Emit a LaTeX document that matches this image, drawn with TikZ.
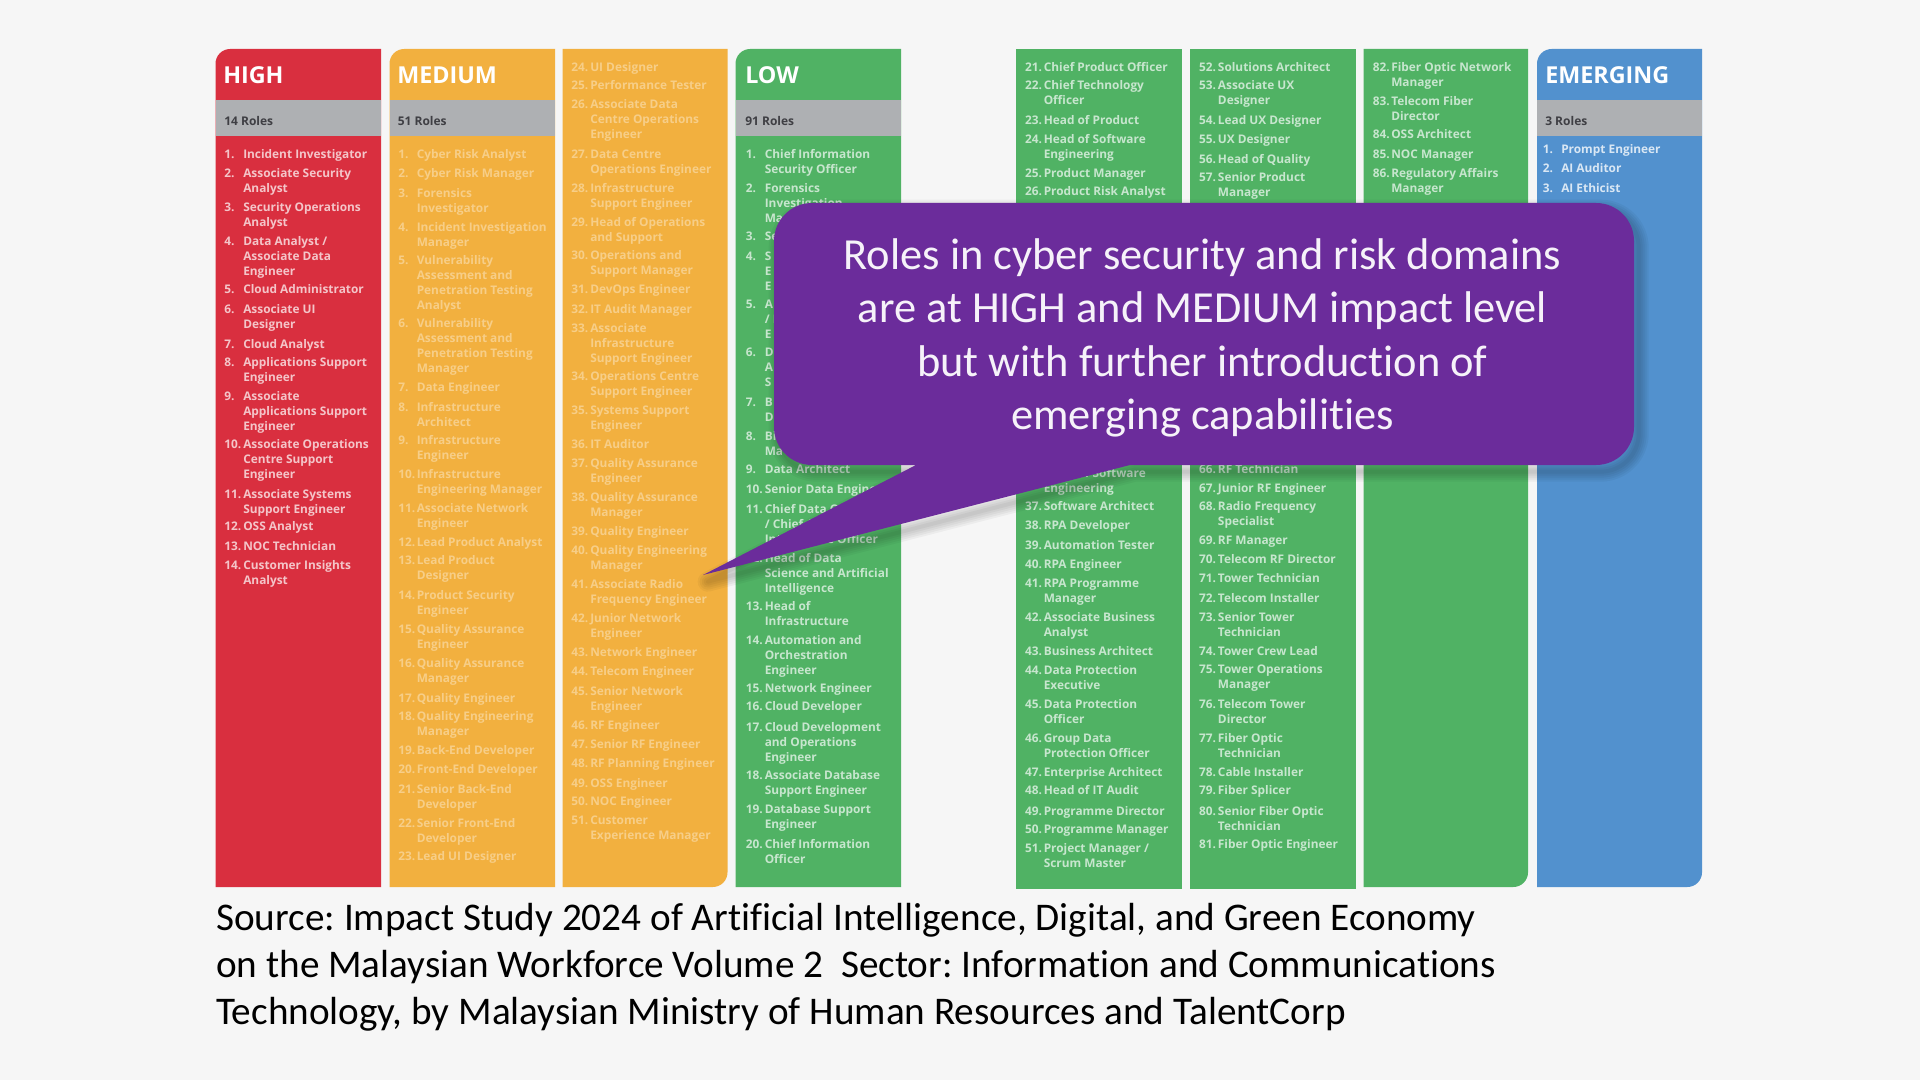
\documentclass[tikz,border=0pt]{standalone}
\usepackage{fontspec}
\setmainfont{Carlito}[Ligatures=CommonOff]
\newfontfamily\headfont{Open Sans}
\frenchspacing
\definecolor{pagebg}{HTML}{F6F6F6}
\definecolor{highcol}{HTML}{D92F3F}
\definecolor{medcol}{HTML}{F2B03F}
\definecolor{lowcol}{HTML}{50B264}
\definecolor{emcol}{HTML}{5291CE}
\definecolor{bandcol}{HTML}{AEB0B3}
\definecolor{bandtext}{HTML}{3F3F44}
\definecolor{purplecol}{HTML}{6B2C9B}
\colorlet{hightext}{white!72!highcol}
\colorlet{medtext}{white!38!medcol}
\colorlet{lowtext}{white!68!lowcol}
\colorlet{emtext}{white!78!emcol}
\tikzset{
  roletext/.style={anchor=north west, inner sep=0pt, align=left,
    font=\headfont\bfseries\fontsize{8.9}{11.25}\selectfont},
  headtext/.style={anchor=west, inner sep=0pt, text=white,
    font=\headfont\bfseries\fontsize{17.5}{20}\selectfont},
  bandlabel/.style={anchor=west, inner sep=0pt, text=bandtext,
    font=\headfont\bfseries\fontsize{9}{11}\selectfont},
}
% col left x, name prefix, text colour, number/text offsets, list of number/y/text
\newcommand{\rolecol}[6]{
  \foreach \n/\yy/\txt in {#6} {
    \node[roletext, text=#3] (#2n\n) at (#1+#4,\yy-6) {\rule{0pt}{8pt}\n.};
    \node[roletext, text=#3] (#2t\n) at (#1+#5,\yy-6) {\rule{0pt}{8pt}\txt};
  }
}
\newcommand{\calloutpath}{(774,300) [rounded corners=28.5pt] -- (774,203) -- (1634,203) -- (1634,465) [sharp corners] -- (1130,465) -- (703,575) -- (916,465) [rounded corners=28.5pt] -- (774,465) -- cycle}
\begin{document}
\begin{tikzpicture}[x=0.75pt, y=-0.75pt]
  \fill[pagebg] (0,0) rectangle (1920,1080);
  \useasboundingbox (0,0) rectangle (1920,1080);

  % Columns
  \fill[highcol] (215.5,887) [rounded corners=11pt] -- (215.5,49) [sharp corners] -- (381,49) -- (381,887) -- cycle;
  \fill[medcol] (389.5,887) [rounded corners=11pt] -- (389.5,49) [sharp corners] -- (555,49) -- (555,887) -- cycle;
  \fill[medcol] (562.5,49) -- (727.5,49) [rounded corners=11pt] -- (727.5,887) [sharp corners] -- (562.5,887) -- cycle;
  \fill[lowcol] (735.5,887) [rounded corners=11pt] -- (735.5,49) [sharp corners] -- (901,49) -- (901,887) -- cycle;
  \fill[lowcol] (1015.5,49) rectangle (1182,889);
  \fill[lowcol] (1190,49) rectangle (1355.5,889);
  \fill[lowcol] (1363.5,49) -- (1528,49) [rounded corners=11pt] -- (1528,887) [sharp corners] -- (1363.5,887) -- cycle;
  \fill[emcol] (1537,887) [rounded corners=11pt] -- (1537,49) [sharp corners] -- (1702,49) [rounded corners=11pt] -- (1702,887) [sharp corners] -- cycle;

  % Grey bands
  \fill[bandcol] (215.5,100) rectangle (381,136);
  \fill[bandcol] (389.5,100) rectangle (555,136);
  \fill[bandcol] (735.5,100) rectangle (901,136);
  \fill[bandcol] (1537,100) rectangle (1702,136);

  \node[headtext] (high) at (223,75) {HIGH};
  \node[headtext] (medium) at (397,75) {MEDIUM};
  \node[headtext] (low) at (745,75) {LOW};
  \node[headtext] (emerging) at (1545,75) {EMERGING};
  \node[bandlabel] (highband) at (224,121) {14 Roles};
  \node[bandlabel] (medband) at (397.5,121) {51 Roles};
  \node[bandlabel] (lowband) at (745,121) {91 Roles};
  \node[bandlabel] (emband) at (1545,121) {3 Roles};

  \rolecol{215.5}{h}{hightext}{8.5}{27.5}{
    1/153.3/Incident Investigator,
    2/172.3/Associate Security\\Analyst,
    3/206.3/Security Operations\\Analyst,
    4/240.3/{Data Analyst /\\Associate Data\\Engineer},
    5/288.3/Cloud Administrator,
    6/308.3/Associate UI\\Designer,
    7/343.3/Cloud Analyst,
    8/361.7/Applications Support\\Engineer,
    9/395.7/Associate\\Applications Support\\Engineer,
    10/443.7/Associate Operations\\Centre Support\\Engineer,
    11/493.3/Associate Systems\\Support Engineer,
    12/526/OSS Analyst,
    13/546/NOC Technician,
    14/565/Customer Insights\\Analyst}

  \rolecol{389.5}{m}{medtext}{8.5}{27}{
    1/153.3/Cyber Risk Analyst,
    2/172.3/Cyber Risk Manager,
    3/192.7/Forensics\\Investigator,
    4/226.7/Incident Investigation\\Manager,
    5/259.3/Vulnerability\\Assessment and\\Penetration Testing\\Analyst,
    6/323/Vulnerability\\Assessment and\\Penetration Testing\\Manager,
    7/386.7/Data Engineer,
    8/406.7/Infrastructure\\Architect,
    9/439.3/Infrastructure\\Engineer,
    10/473.3/Infrastructure\\Engineering Manager,
    11/507.3/Associate Network\\Engineer,
    12/541.7/Lead Product Analyst,
    13/560/Lead Product\\Designer,
    14/594.7/Product Security\\Engineer,
    15/628.3/Quality Assurance\\Engineer,
    16/662.7/Quality Assurance\\Manager,
    17/697.3/Quality Engineer,
    18/716/Quality Engineering\\Manager,
    19/750/Back-End Developer,
    20/768.3/Front-End Developer,
    21/788.3/Senior Back-End\\Developer,
    22/822.7/Senior Front-End\\Developer,
    23/855.3/Lead UI Designer}

  \rolecol{562.5}{m}{medtext}{8.5}{27.5}{
    24/66.7/UI Designer,
    25/85/Performance Tester,
    26/103.7/Associate Data\\Centre Operations\\Engineer,
    27/153.3/Data Centre\\Operations Engineer,
    28/187.7/Infrastructure\\Support Engineer,
    29/221.7/Head of Operations\\and Support,
    30/255/Operations and\\Support Manager,
    31/288.3/DevOps Engineer,
    32/308.3/IT Audit Manager,
    33/327.3/Associate\\Infrastructure\\Support Engineer,
    34/375.7/Operations Centre\\Support Engineer,
    35/410/Systems Support\\Engineer,
    36/443.7/IT Auditor,
    37/462.7/Quality Assurance\\Engineer,
    38/496.7/Quality Assurance\\Manager,
    39/531/Quality Engineer,
    40/550/Quality Engineering\\Manager,
    41/583.3/Associate Radio\\Frequency Engineer,
    42/617.3/Junior Network\\Engineer,
    43/652/Network Engineer,
    44/670.7/Telecom Engineer,
    45/690.7/Senior Network\\Engineer,
    46/725/RF Engineer,
    47/743.3/Senior RF Engineer,
    48/762.3/RF Planning Engineer,
    49/782.3/OSS Engineer,
    50/801/NOC Engineer,
    51/820/Customer\\Experience Manager}

  \rolecol{735.5}{l}{lowtext}{10}{29}{
    1/153.3/Chief Information\\Security Officer,
    2/187.7/Forensics\\Investigation\\Manager,
    3/235.7/Se,
    4/256/S\\E\\E,
    5/304/{A\\/ I\\E},
    6/352/D\\A\\S,
    7/401.7/B\\D,
    8/435.7/Bi\\Ma,
    9/468.3/Data Architect,
    10/489/Senior Data Engineer,
    11/508.3/{Chief Data Officer\\/ Chief Artificial\\Intelligence Officer},
    12/557.3/Head of Data\\Science and Artificial\\Intelligence,
    13/605.7/Head of\\Infrastructure,
    14/639.3/Automation and\\Orchestration\\Engineer,
    15/687.3/Network Engineer,
    16/706/Cloud Developer,
    17/726.7/Cloud Development\\and Operations\\Engineer,
    18/775/Associate Database\\Support Engineer,
    19/809/Database Support\\Engineer,
    20/843.3/Chief Information\\Officer}

  \rolecol{1015.5}{l}{lowtext}{9.3}{28}{
    21/66.7/Chief Product Officer,
    22/85/Chief Technology\\Officer,
    23/119.3/Head of Product,
    24/138.3/Head of Software\\Engineering,
    25/172.3/Product Manager,
    26/190.7/Product Risk Analyst,
    36/472.3/Head of Software\\Engineering,
    37/506/Software Architect,
    38/525/RPA Developer,
    39/545/Automation Tester,
    40/563.7/RPA Engineer,
    41/582.3/RPA Programme\\Manager,
    42/616.7/Associate Business\\Analyst,
    43/650.7/Business Architect,
    44/669.3/Data Protection\\Executive,
    45/703.3/Data Protection\\Officer,
    46/737.7/Group Data\\Protection Officer,
    47/771.3/Enterprise Architect,
    48/790/Head of IT Audit,
    49/810.3/Programme Director,
    50/829/Programme Manager,
    51/847.7/{Project Manager /\\Scrum Master}}

  \rolecol{1190}{l}{lowtext}{8.8}{27.7}{
    52/66.7/Solutions Architect,
    53/85/Associate UX\\Designer,
    54/119.3/Lead UX Designer,
    55/138.3/UX Designer,
    56/158.3/Head of Quality,
    57/176.7/Senior Product\\Manager,
    66/468.3/RF Technician,
    67/487.3/Junior RF Engineer,
    68/506/Radio Frequency\\Specialist,
    69/540/RF Manager,
    70/559/Telecom RF Director,
    71/577.3/Tower Technician,
    72/597.7/Telecom Installer,
    73/616.3/Senior Tower\\Technician,
    74/650.3/Tower Crew Lead,
    75/669/Tower Operations\\Manager,
    76/703.3/Telecom Tower\\Director,
    77/737.7/Fiber Optic\\Technician,
    78/771.3/Cable Installer,
    79/790/Fiber Splicer,
    80/810.3/Senior Fiber Optic\\Technician,
    81/843.3/Fiber Optic Engineer}

  \rolecol{1363.5}{l}{lowtext}{9}{27.5}{
    82/66.7/Fiber Optic Network\\Manager,
    83/101/Telecom Fiber\\Director,
    84/133.3/OSS Architect,
    85/153.7/NOC Manager,
    86/172.3/Regulatory Affairs\\Manager}

  \rolecol{1537}{e}{emtext}{5.6}{24}{
    1/149/Prompt Engineer,
    2/167.7/AI Auditor,
    3/187.7/AI Ethicist}

  % Soft shadow, then the callout
  \foreach \w in {20,16,12,8,4} {
    \draw[black, opacity=0.04, line width=\w*0.75pt, xshift=3.5pt, yshift=-5pt, line join=round] \calloutpath;
  }
  \fill[purplecol] \calloutpath;
  \node[inner sep=0pt, align=center, text=white!94!purplecol, font=\fontsize{33.3}{40.1}\selectfont] (callout) at (1202.5,338)
    {Roles in cyber security and risk domains\\are at HIGH and MEDIUM impact level\\but with further introduction of\\emerging capabilities};

  \node[anchor=base west, inner sep=0pt, align=left, text=black, font=\fontsize{29.4}{35.25}\selectfont] (source) at (216,1024)
    {Source: Impact Study 2024 of Artificial Intelligence, Digital, and Green Economy\\on the Malaysian Workforce Volume 2\ \ Sector: Information and Communications\\Technology, by Malaysian Ministry of Human Resources and TalentCorp};
\end{tikzpicture}
\end{document}
